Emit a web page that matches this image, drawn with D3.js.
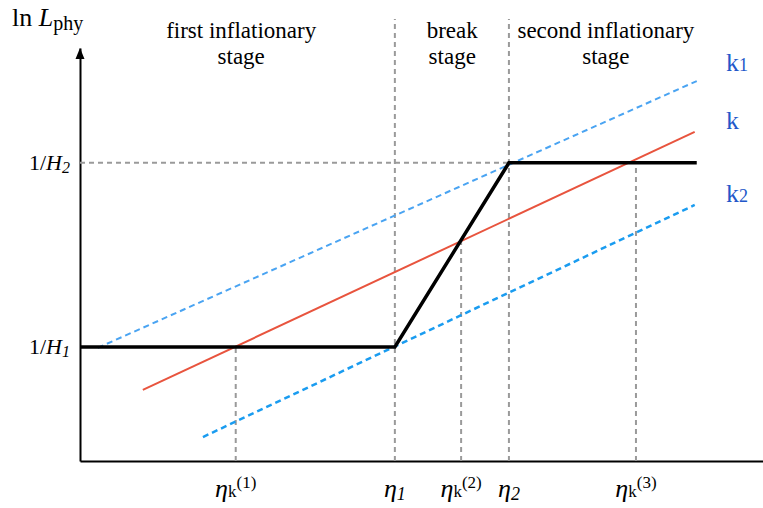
<!DOCTYPE html>
<html><head><meta charset="utf-8">
<script src="https://cdn.jsdelivr.net/npm/d3@7/dist/d3.min.js"></script>
<style>
html,body{margin:0;padding:0;background:#fff;}
text{font-family:"Liberation Serif","Times New Roman",serif;fill:#000;}
</style></head>
<body>
<svg id="chart" width="763" height="508"></svg>
<script>
// ---- data (abstract units: eta = conformal time, lnL = ln L_phy) ----
const tickNames = ["k1", "1", "k2", "2", "k3"];
const tickEta = [2.28, 4.61, 5.58, 6.28, 8.14];
const guideTop = [2.76, 10.7, 5.33, 10.7, 7.22];
const levelNames = ["1", "2"];
const levelLnL = [2.76, 7.22];
const physEta = [0, 4.61, 6.28, 9.03];
const physLnL = [2.76, 2.76, 7.22, 7.22];
const kEta = [0.92, 9.0];
const kLnL = [1.72, 7.97];
const k1Eta = [0.26, 9.03];
const k1LnL = [2.74, 9.2];
const k2Eta = [1.80, 9.0];
const k2LnL = [0.58, 6.2];
const stageLine1 = ["first inflationary", "break", "second inflationary"];
const stageLine2 = ["stage", "stage", "stage"];
const stageEta = [2.36, 5.45, 7.70];
const modeNames = ["k", "k", "k"];
const modeSub = ["1", "", "2"];
const modeLnL = [9.45, 8.03, 6.27];

const svg = d3.select("#chart");
const x = d3.scaleLinear().domain([0, 10]).range([80, 763]);
const y = d3.scaleLinear().domain([0, 10]).range([461, 48]);

// axes
svg.append("g").attr("transform", `translate(0,${y(0)})`)
  .call(d3.axisBottom(x).tickValues([]).tickSizeOuter(0))
  .call(g => g.select(".domain").attr("stroke", "#000").attr("stroke-width", 2));
svg.append("g").attr("transform", `translate(${x(0)},0)`)
  .call(d3.axisLeft(y).tickValues([]).tickSizeOuter(0))
  .call(g => g.select(".domain").attr("stroke", "#000").attr("stroke-width", 2));
// arrow
svg.append("path")
  .attr("d", `M${x(0)},${y(10)} l-4.5,11 l9,0 z`)
  .attr("fill", "#000");

const line = d3.line().x(d => x(d[0])).y(d => y(d[1]));
const gray = "#9a9a9a";

// vertical guides
tickEta.forEach((e, i) => {
  svg.append("path").attr("d", line([[e, 0], [e, guideTop[i]]]))
    .attr("stroke", gray).attr("stroke-width", 2).attr("stroke-dasharray", "5,4").attr("fill", "none");
});
// horizontal guide at 1/H2
svg.append("path").attr("d", line([[0, levelLnL[1]], [tickEta[3], levelLnL[1]]]))
  .attr("stroke", gray).attr("stroke-width", 2).attr("stroke-dasharray", "5,4").attr("fill", "none");

// k1 line
svg.append("path").attr("d", line(d3.zip(k1Eta, k1LnL)))
  .attr("stroke", "#4aa4f2").attr("stroke-width", 2).attr("stroke-dasharray", "6,4").attr("fill", "none");
// k2 line
svg.append("path").attr("d", line(d3.zip(k2Eta, k2LnL)))
  .attr("stroke", "#1a9cf0").attr("stroke-width", 2.5).attr("stroke-dasharray", "6,4").attr("fill", "none");
// k line
svg.append("path").attr("d", line(d3.zip(kEta, kLnL)))
  .attr("stroke", "#e8543e").attr("stroke-width", 2).attr("fill", "none");
// physical horizon
svg.append("path").attr("d", line(d3.zip(physEta, physLnL)))
  .attr("stroke", "#000").attr("stroke-width", 3.5).attr("fill", "none").attr("stroke-linejoin", "miter");

// y-axis title
const yt = svg.append("text").attr("x", 12).attr("y", 26).attr("font-size", 26);
yt.append("tspan").text("ln ");
yt.append("tspan").attr("font-style", "italic").text("L");
yt.append("tspan").attr("font-size", 20).attr("dy", 4).text("phy");

// level labels
levelLnL.forEach((v, i) => {
  const t = svg.append("text").attr("x", 70).attr("y", y(v) + 7).attr("text-anchor", "end").attr("font-size", 22);
  t.append("tspan").text("1/");
  t.append("tspan").attr("font-style", "italic").text("H");
  t.append("tspan").attr("font-style", "italic").attr("font-size", 16).attr("dy", 3).text(levelNames[i]);
});

// stage labels
stageEta.forEach((e, i) => {
  svg.append("text").attr("x", x(e)).attr("y", 38).attr("text-anchor", "middle").attr("font-size", 23).text(stageLine1[i]);
  svg.append("text").attr("x", x(e)).attr("y", 64).attr("text-anchor", "middle").attr("font-size", 23).text(stageLine2[i]);
});

// bottom eta labels
tickEta.forEach((e, i) => {
  const n = tickNames[i];
  const t = svg.append("text").attr("x", x(e)).attr("y", 497).attr("text-anchor", "middle").attr("font-size", 26);
  t.append("tspan").attr("font-style", "italic").text("η");
  if (n[0] === "k") {
    t.append("tspan").attr("font-size", 17).text("k");
    t.append("tspan").attr("font-size", 17).attr("dy", -9).text("(" + n[1] + ")");
  } else {
    t.append("tspan").attr("font-style", "italic").attr("font-size", 18).attr("dy", 3).text(n);
  }
});

// mode labels on right
modeLnL.forEach((v, i) => {
  const t = svg.append("text").attr("x", 726).attr("y", y(v)).attr("font-size", 26)
    .style("fill", "#2257c9").attr("font-family", "'DejaVu Serif', serif").attr("font-weight", "300");
  t.append("tspan").style("fill", "#2257c9").text(modeNames[i]);
  if (modeSub[i]) t.append("tspan").style("fill", "#2257c9").attr("font-size", 18).text(modeSub[i]);
});
</script>
</body></html>
